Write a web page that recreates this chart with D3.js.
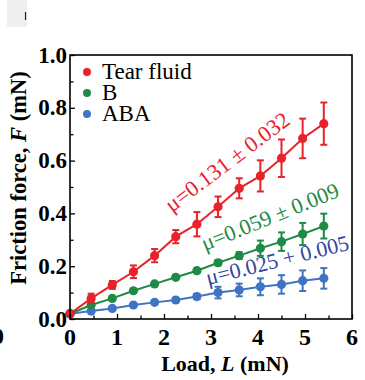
<!DOCTYPE html>
<html><head><meta charset="utf-8">
<script src="https://cdn.jsdelivr.net/npm/d3@7"></script>
<style>body{margin:0;background:#fff}svg{display:block}</style>
</head><body>
<script>
const loads = [0,0.45,0.9,1.35,1.8,2.25,2.7,3.15,3.6,4.05,4.5,4.95,5.4];
const tearFluid = [0.02,0.078,0.129,0.179,0.24,0.312,0.359,0.425,0.495,0.542,0.609,0.684,0.740];
const tearFluidErr = [0.005,0.018,0.015,0.024,0.025,0.025,0.046,0.039,0.038,0.059,0.071,0.075,0.08];
const seriesB = [0.02,0.053,0.078,0.107,0.133,0.158,0.183,0.213,0.24,0.268,0.293,0.322,0.352];
const seriesBErr = [0.004,0.005,0.005,0.006,0.006,0.007,0.008,0.01,0.013,0.029,0.035,0.042,0.047];
const seriesABA = [0.02,0.03,0.04,0.053,0.063,0.072,0.085,0.10,0.11,0.122,0.131,0.145,0.154];
const seriesABAErr = [0.004,0.004,0.005,0.005,0.006,0.008,0.01,0.022,0.024,0.032,0.035,0.039,0.039];
const seriesNames = ["Tear fluid","B","ABA"];
const muLabels = ["\u03bc=0.131 \u00b1 0.032","\u03bc=0.059 \u00b1 0.009","\u03bc=0.025 + 0.005"];
const xTicks = [0,1,2,3,4,5,6];
const yTicks = [0.0,0.2,0.4,0.6,0.8,1.0];

const W=365,H=380;
const m={l:70,r:13,t:55,b:61};
const svg=d3.select("body").append("svg").attr("width",W).attr("height",H);
const x=d3.scaleLinear().domain([0,6]).range([m.l,W-m.r]);
const y=d3.scaleLinear().domain([0,1]).range([H-m.b,m.t]);
const serif="'Liberation Serif','Times New Roman',serif";

// remnants of neighbouring panels
svg.append("rect").attr("x",7).attr("y",0).attr("width",20).attr("height",27).attr("fill","#efefef");
svg.append("line").attr("x1",25.5).attr("x2",25.5).attr("y1",12).attr("y2",20).attr("stroke","#222").attr("stroke-width",1.2);
svg.append("text").attr("x",-8).attr("y",344).attr("font-family",serif).attr("font-weight","bold").attr("font-size",24).text("0");

const series=[
 {name:seriesNames[0],v:tearFluid,e:tearFluidErr,c:"#e8222b",tc:"#e8222b",mu:muLabels[0]},
 {name:seriesNames[1],v:seriesB,e:seriesBErr,c:"#1d8a45",tc:"#1d8a45",mu:muLabels[1]},
 {name:seriesNames[2],v:seriesABA,e:seriesABAErr,c:"#3f74c4",tc:"#3246a0",mu:muLabels[2]}
];

const g=svg.append("g");
const line=d3.line().x(d=>x(d[0])).y(d=>y(d[1]));
series.slice().reverse().forEach(s=>{
  const pts=loads.map((l,i)=>[l,s.v[i],s.e[i]]);
  const sg=g.append("g");
  sg.append("path").datum(pts).attr("d",line).attr("fill","none").attr("stroke",s.c).attr("stroke-width",2);
  const eb=sg.selectAll(".eb").data(pts).enter().append("g");
  eb.append("line").attr("x1",d=>x(d[0])).attr("x2",d=>x(d[0]))
    .attr("y1",d=>y(d[1]-d[2])).attr("y2",d=>y(d[1]+d[2])).attr("stroke",s.c).attr("stroke-width",2);
  eb.append("line").attr("x1",d=>x(d[0])-3.5).attr("x2",d=>x(d[0])+3.5)
    .attr("y1",d=>y(d[1]+d[2])).attr("y2",d=>y(d[1]+d[2])).attr("stroke",s.c).attr("stroke-width",2);
  eb.append("line").attr("x1",d=>x(d[0])-3.5).attr("x2",d=>x(d[0])+3.5)
    .attr("y1",d=>y(d[1]-d[2])).attr("y2",d=>y(d[1]-d[2])).attr("stroke",s.c).attr("stroke-width",2);
  sg.selectAll("circle").data(pts).enter().append("circle")
    .attr("cx",d=>x(d[0])).attr("cy",d=>y(d[1])).attr("r",4.6).attr("fill",s.c);
});

const xAxis=svg.append("g").attr("transform",`translate(0,${H-m.b})`)
  .call(d3.axisBottom(x).tickValues(d3.range(0,6.01,0.5)).tickSize(-4).tickFormat(""));
xAxis.selectAll(".tick line").attr("stroke","#000").attr("stroke-width",1.3)
  .attr("y2",(d)=>Math.abs(d%1)<1e-6?-5:-3.5);
xAxis.select(".domain").remove();
const yAxis=svg.append("g").attr("transform",`translate(${m.l},0)`)
  .call(d3.axisLeft(y).tickValues(d3.range(0,1.001,0.1)).tickSize(-4).tickFormat(""));
yAxis.selectAll(".tick line").attr("stroke","#000").attr("stroke-width",1.3)
  .attr("x2",(d,i)=>i%2===0?5:3.5);
yAxis.select(".domain").remove();

svg.append("rect").attr("x",m.l).attr("y",m.t).attr("width",W-m.r-m.l).attr("height",H-m.b-m.t)
  .attr("fill","none").attr("stroke","#000").attr("stroke-width",1.6);

svg.selectAll(".xl").data(xTicks).enter().append("text")
  .attr("x",d=>x(d)).attr("y",H-m.b+26).attr("text-anchor","middle")
  .attr("font-family",serif).attr("font-weight","bold").attr("font-size",24).text(d=>d);
svg.selectAll(".yl").data(yTicks).enter().append("text")
  .attr("x",m.l-3).attr("y",d=>y(d)+7.5).attr("text-anchor","end")
  .attr("font-family",serif).attr("font-weight","bold").attr("font-size",23).text(d=>d.toFixed(1));

const xt=svg.append("text").attr("x",225).attr("y",371).attr("text-anchor","middle")
  .attr("font-family",serif).attr("font-weight","bold").attr("font-size",22);
xt.append("tspan").text("Load, ");
xt.append("tspan").attr("font-style","italic").text("L");
xt.append("tspan").text(" (mN)");
const yt=svg.append("text").attr("transform","translate(26,178) rotate(-90)").attr("text-anchor","middle")
  .attr("font-family",serif).attr("font-weight","bold").attr("font-size",22.5);
yt.append("tspan").text("Friction force, ");
yt.append("tspan").attr("font-style","italic").text("F");
yt.append("tspan").text(" (mN)");

series.forEach((s,i)=>{
  const cy=72+i*21;
  svg.append("circle").attr("cx",87).attr("cy",cy).attr("r",4).attr("fill",s.c);
  svg.append("text").attr("x",102).attr("y",cy+7).attr("font-family",serif).attr("font-size",23).text(s.name);
});

const muPos=[[172,213,-37],[205,251,-22],[208,285,-14]];
const muSize=[22.5,22,22];
series.forEach((s,i)=>{
  const p=muPos[i];
  svg.append("text").attr("transform",`translate(${p[0]},${p[1]}) rotate(${p[2]})`)
    .attr("font-family",serif).attr("font-size",muSize[i]).attr("fill",s.tc).text(s.mu);
});
</script>
</body></html>
